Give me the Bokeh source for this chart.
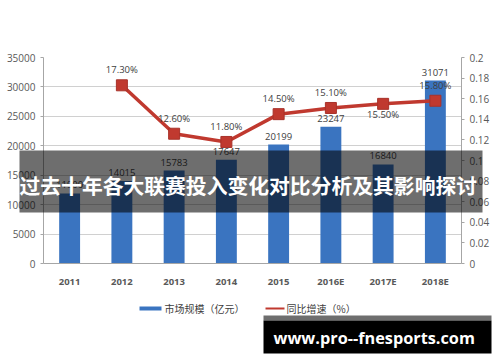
from bokeh.plotting import figure
from bokeh.models import (ColumnDataSource, LabelSet, LinearAxis, Range1d, FactorRange,
                          CustomJSTickFormatter, FixedTicker)
from bokeh.core.properties import value
from bokeh.embed import file_html
from bokeh.resources import INLINE

# ---- data ----
years = ["2011", "2012", "2013", "2014", "2015", "2016E", "2017E", "2018E"]
market_size = [11900, 14015, 15783, 17647, 20199, 23247, 16840, 31071]
growth_years = ["2012", "2013", "2014", "2015", "2016E", "2017E", "2018E"]
growth_rate = [0.173, 0.126, 0.118, 0.145, 0.151, 0.155, 0.158]
left_ticks = [0, 5000, 10000, 15000, 20000, 25000, 30000, 35000]
right_ticks = [0, 0.02, 0.04, 0.06, 0.08, 0.1, 0.12, 0.14, 0.16, 0.18, 0.2]
title_text = "过去十年各大联赛投入变化对比分析及其影响探讨"
watermark_text = "www.pro--fnesports.com"
legend_bar = "市场规模（亿元）"
legend_line = "同比增速（%）"

BAR = "#3a74c0"
RED = "#c0392f"
TXT = "#404040"
AX = "#595959"

W, H = 500, 362
FL, FR, FT, FB = 43, 461, 57, 263   # frame edges in canvas pixels
Y_MAX = 35000

p = figure(width=W, height=H, x_range=FactorRange(*years), y_range=Range1d(0, Y_MAX),
           output_backend="svg", toolbar_location=None,
           min_border_left=FL, min_border_right=W - FR, min_border_top=FT, min_border_bottom=H - FB)
p.extra_y_ranges = {"pct": Range1d(0, 0.2)}
p.outline_line_color = None
p.background_fill_color = "white"
p.border_fill_color = "white"

p.xgrid.grid_line_color = None
p.ygrid.grid_line_color = "#d0d0d0"
p.ygrid.ticker = FixedTicker(ticks=left_ticks)

# left axis
ya = p.yaxis[0]
ya.ticker = FixedTicker(ticks=left_ticks)
ya.axis_line_color = "#a6a6a6"
ya.major_tick_line_color = "#a6a6a6"
ya.major_tick_out = 3
ya.major_tick_in = 0
ya.minor_tick_line_color = None
ya.major_label_text_font = "Open Sans"
ya.major_label_text_font_size = "10px"
ya.major_label_text_color = AX
ya.major_label_standoff = 5

# right axis
ra = LinearAxis(y_range_name="pct", ticker=FixedTicker(ticks=right_ticks),
                formatter=CustomJSTickFormatter(code="return String(parseFloat(tick.toFixed(2)));"))
ra.axis_line_color = "#a6a6a6"
ra.major_tick_line_color = "#a6a6a6"
ra.major_tick_out = 3
ra.major_tick_in = 0
ra.minor_tick_line_color = None
ra.major_label_text_font = "Open Sans"
ra.major_label_text_font_size = "10px"
ra.major_label_text_color = AX
ra.major_label_standoff = 5
p.add_layout(ra, "right")

# bottom axis
xa = p.xaxis[0]
xa.axis_line_color = "#a6a6a6"
xa.major_tick_line_color = None
xa.major_label_text_font = "Open Sans"
xa.major_label_text_font_size = "9.5px"
xa.major_label_text_font_style = "bold"
xa.major_label_text_color = AX
xa.major_label_standoff = 5

# bars
bsrc = ColumnDataSource(dict(x=years, top=market_size, lab=[str(v) for v in market_size]))
p.vbar(x="x", top="top", width=0.4, source=bsrc, fill_color=BAR, line_color=None)

# growth line
gsrc = ColumnDataSource(dict(x=growth_years, y=growth_rate,
                             lab=[f"{v*100:.2f}%" for v in growth_rate],
                             off=[-17 if yr == "2017E" else 9 for yr in growth_years]))
p.line(x="x", y="y", source=gsrc, y_range_name="pct", line_color=RED, line_width=3.5)
p.scatter(x="x", y="y", source=gsrc, y_range_name="pct", marker="square", size=11,
          fill_color=RED, line_color="#a8322a")

# value labels
p.add_layout(LabelSet(x="x", y="top", text="lab", source=bsrc, y_offset=5,
                      text_align="center", text_baseline="bottom",
                      text_font=value("Open Sans"), text_font_size="9.5px", text_color=TXT))
p.add_layout(LabelSet(x="x", y="y", text="lab", source=gsrc, y_range_name="pct", y_offset="off",
                      text_align="center", text_baseline="bottom",
                      text_font=value("Open Sans"), text_font_size="9.5px", text_color=TXT))

# ---- decorations drawn in canvas pixels, converted to synthetic data coords ----
def px(x):
    return (x - FL) / (FR - FL) * len(years)

def py(y):
    return (FB - y) / (FB - FT) * Y_MAX

deco = dict(level="overlay")

# legend (manual)
p.segment(x0=[px(139)], x1=[px(161)], y0=[py(308)], y1=[py(308)], line_color=BAR, line_width=4, **deco)
p.text(x=[px(164)], y=[py(308)], text=[legend_bar], text_align="left", text_baseline="middle",
       text_color=TXT, text_font=value("Noto Sans CJK SC"), text_font_size="10px", **deco)
p.segment(x0=[px(265)], x1=[px(284)], y0=[py(308)], y1=[py(308)], line_color=RED, line_width=2, **deco)
p.scatter(x=[px(274.5)], y=[py(308)], marker="square", size=6, fill_color=RED, line_color=RED, **deco)
p.text(x=[px(286)], y=[py(308)], text=[legend_line], text_align="left", text_baseline="middle",
       text_color=TXT, text_font=value("Noto Sans CJK SC"), text_font_size="10px", **deco)

# banner with title
p.quad(left=[px(19)], right=[px(482)], top=[py(150)], bottom=[py(212)],
       fill_color="black", fill_alpha=0.57, line_alpha=0, **deco)
p.text(x=[px(19)], y=[py(184)], text=[title_text], text_align="left", text_baseline="middle",
       text_color="white", text_font=value("Noto Sans CJK SC"), text_font_style="bold",
       text_font_size="20.8px", **deco)

# watermark
p.quad(left=[px(263)], right=[px(491)], top=[py(315)], bottom=[py(320)],
       fill_color="#6e6e6e", line_alpha=0, **deco)
p.quad(left=[px(263)], right=[px(491)], top=[py(320)], bottom=[py(353)],
       fill_color="black", line_alpha=0, **deco)
p.text(x=[px(273)], y=[py(337)], text=[watermark_text], text_align="left", text_baseline="middle",
       text_color="white", text_font=value("Open Sans"), text_font_style="bold",
       text_font_size="16.3px", **deco)

open("out.html", "w").write(file_html(p, INLINE))
